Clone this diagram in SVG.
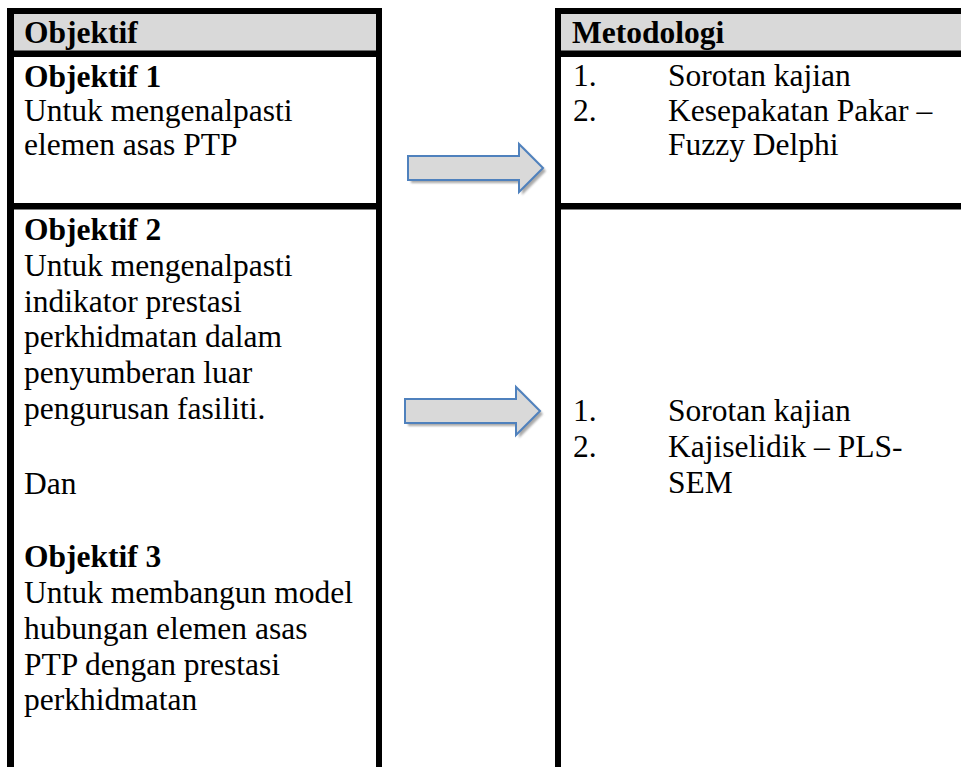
<svg xmlns="http://www.w3.org/2000/svg" width="961" height="767" viewBox="0 0 961 767">
  <style>
    .t { font-family: "Liberation Serif", "Times New Roman", serif; font-size: 31.5px; fill: #000; }
    .b { font-weight: bold; }
    .bd { fill: #000; }
    .hd { fill: #d9d9d9; }
    .arr { fill: #d9d9d9; stroke: #4f81bd; stroke-width: 2; stroke-linejoin: miter; }
    .sh { fill: #8c8c8c; opacity: 0.75; }
  </style>
  <defs>
    <filter id="blur" x="-10%" y="-20%" width="120%" height="140%">
      <feGaussianBlur stdDeviation="1"/>
    </filter>
  </defs>
  <rect width="961" height="767" fill="#fff"/>

  <!-- Left table -->
  <g id="left-header">
    <rect class="hd" x="14" y="14" width="362" height="37"/>
    <text class="t b" x="24" y="43">Objektif</text>
  </g>
  <g id="objektif-1">
    <text class="t b" x="24" y="87">Objektif 1</text>
    <text class="t" x="24" y="121">Untuk mengenalpasti</text>
    <text class="t" x="24" y="155">elemen asas PTP</text>
  </g>
  <g id="objektif-2-3">
    <text class="t b" x="24" y="240">Objektif 2</text>
    <text class="t" x="24" y="276">Untuk mengenalpasti</text>
    <text class="t" x="24" y="312">indikator prestasi</text>
    <text class="t" x="24" y="347">perkhidmatan dalam</text>
    <text class="t" x="24" y="383">penyumberan luar</text>
    <text class="t" x="24" y="419">pengurusan fasiliti.</text>
    <text class="t" x="24" y="494">Dan</text>
    <text class="t b" x="24" y="567">Objektif 3</text>
    <text class="t" x="24" y="603">Untuk membangun model</text>
    <text class="t" x="24" y="639">hubungan elemen asas</text>
    <text class="t" x="24" y="675">PTP dengan prestasi</text>
    <text class="t" x="24" y="710">perkhidmatan</text>
  </g>
  <g id="left-borders">
    <rect class="bd" x="7" y="8" width="7" height="759"/>
    <rect class="bd" x="376" y="8" width="6" height="759"/>
    <rect class="bd" x="7" y="8" width="375" height="6"/>
    <rect class="bd" x="7" y="50.5" width="375" height="6.5"/>
    <rect class="bd" x="7" y="203" width="375" height="6.5"/>
  </g>

  <!-- Right table -->
  <g id="right-header">
    <rect class="hd" x="561" y="14" width="400" height="37"/>
    <text class="t b" x="572" y="43">Metodologi</text>
  </g>
  <g id="metodologi-1">
    <text class="t" x="573" y="86">1.</text>
    <text class="t" x="668" y="86">Sorotan kajian</text>
    <text class="t" x="573" y="121">2.</text>
    <text class="t" x="668" y="121">Kesepakatan Pakar –</text>
    <text class="t" x="668" y="155">Fuzzy Delphi</text>
  </g>
  <g id="metodologi-2">
    <text class="t" x="573" y="421">1.</text>
    <text class="t" x="668" y="421">Sorotan kajian</text>
    <text class="t" x="573" y="457">2.</text>
    <text class="t" x="668" y="457">Kajiselidik – PLS-</text>
    <text class="t" x="668" y="493">SEM</text>
  </g>
  <g id="right-borders">
    <rect class="bd" x="555" y="8" width="6" height="759"/>
    <rect class="bd" x="555" y="8" width="406" height="6"/>
    <rect class="bd" x="555" y="50.5" width="406" height="6.5"/>
    <rect class="bd" x="555" y="203" width="406" height="6.5"/>
  </g>

  <!-- Connectors -->
  <g id="connectors">
    <g id="arrow-1">
      <path class="sh" filter="url(#blur)" transform="translate(3 3)" d="M408 156 H519 V144 L543 168 L519 192 V180 H408 Z"/>
      <path class="arr" d="M408 156 H519 V144 L543 168 L519 192 V180 H408 Z"/>
    </g>
    <g id="arrow-2">
      <path class="sh" filter="url(#blur)" transform="translate(3 3)" d="M405 399 H516 V387 L540 411 L516 435 V423 H405 Z"/>
      <path class="arr" d="M405 399 H516 V387 L540 411 L516 435 V423 H405 Z"/>
    </g>
  </g>
</svg>
